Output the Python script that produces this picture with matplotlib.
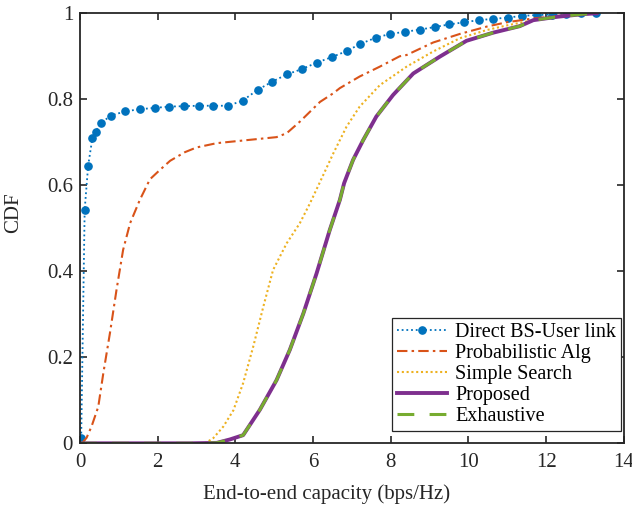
import matplotlib
matplotlib.use("Agg")
import matplotlib.pyplot as plt

plt.rcParams['font.family'] = ['Liberation Serif', 'DejaVu Serif']
plt.rcParams['mathtext.fontset'] = 'stix'

# Direct BS-User link
direct_x = [0.03, 0.12, 0.21, 0.317, 0.403, 0.532, 0.79, 1.166, 1.544, 1.922, 2.299, 2.676,
            3.054, 3.43, 3.817, 4.188, 4.574, 4.95, 5.327, 5.705, 6.09, 6.477, 6.863, 7.22,
            7.61, 7.98, 8.37, 8.75, 9.13, 9.5, 9.88, 10.26, 10.64, 11.01, 11.39, 11.77,
            12.15, 12.52, 12.91, 13.28]
direct_y = [0.012, 0.543, 0.646, 0.709, 0.725, 0.744, 0.762, 0.772, 0.777, 0.780, 0.783, 0.784,
            0.785, 0.785, 0.785, 0.797, 0.822, 0.841, 0.858, 0.870, 0.885, 0.898, 0.912, 0.929,
            0.943, 0.952, 0.957, 0.962, 0.968, 0.974, 0.979, 0.984, 0.987, 0.990, 0.994, 0.996,
            0.997, 0.999, 1.0, 1.0]

# Probabilistic Alg
prob_x = [0.05, 0.17, 0.3, 0.47, 0.60, 0.77, 0.94, 1.11, 1.29, 1.54, 1.80, 2.06, 2.32, 2.7,
          3.0, 3.52, 4.29, 5.06, 5.32, 5.66, 6.18, 6.52, 6.69, 7.2, 7.72, 8.23, 8.41, 9.09,
          9.78, 10.47, 10.98, 11.67, 12.3, 13.3]
prob_y = [0.0, 0.013, 0.04, 0.085, 0.163, 0.256, 0.357, 0.45, 0.512, 0.566, 0.614, 0.636,
          0.657, 0.677, 0.688, 0.698, 0.705, 0.712, 0.721, 0.748, 0.794, 0.814, 0.826, 0.853,
          0.876, 0.900, 0.903, 0.932, 0.952, 0.969, 0.979, 0.988, 0.994, 1.0]

# Simple Search
simple_x = [0.0, 3.22, 3.43, 3.69, 3.95, 4.2, 4.46, 4.72, 4.97, 5.32, 5.66, 5.92, 6.18, 6.52,
            6.86, 7.2, 7.72, 8.41, 9.09, 9.78, 10.47, 11.0, 11.67, 12.3, 13.3]
simple_y = [0.0, 0.0, 0.012, 0.039, 0.077, 0.14, 0.225, 0.318, 0.403, 0.465, 0.512, 0.558,
            0.608, 0.674, 0.736, 0.783, 0.833, 0.876, 0.911, 0.942, 0.961, 0.972, 0.984,
            0.992, 1.0]

# Proposed
prop_x = [0.0, 2.83, 3.52, 3.86, 4.2, 4.63, 5.06, 5.40, 5.75, 6.09, 6.43, 6.69, 6.80, 7.03,
          7.29, 7.63, 8.06, 8.58, 9.26, 9.95, 10.64, 11.32, 11.67, 12.3, 12.95, 13.3]
prop_y = [0.0, 0.0, 0.001, 0.009, 0.019, 0.078, 0.147, 0.217, 0.302, 0.395, 0.496, 0.566,
          0.605, 0.659, 0.705, 0.760, 0.810, 0.860, 0.899, 0.936, 0.955, 0.970, 0.984,
          0.992, 0.998, 1.0]

# Exhaustive
exh_x = [0.0, 2.83, 3.52, 3.86, 4.2, 4.63, 5.06, 5.40, 5.75, 6.09, 6.43, 6.69, 6.80, 7.03,
         7.29, 7.63, 8.06, 8.58, 9.26, 9.95, 10.64, 11.32, 11.67, 12.3, 12.95, 13.3]
exh_y = [0.0, 0.0, 0.001, 0.009, 0.019, 0.078, 0.147, 0.217, 0.302, 0.395, 0.496, 0.566,
         0.605, 0.659, 0.705, 0.760, 0.810, 0.860, 0.899, 0.936, 0.955, 0.970, 0.984,
         0.992, 0.998, 1.0]

labels = ['Direct BS-User link', 'Probabilistic Alg', 'Simple Search', 'Proposed', 'Exhaustive']
x_ticks = [0, 2, 4, 6, 8, 10, 12, 14]
y_ticks = [0, 0.2, 0.4, 0.6, 0.8, 1]
y_ticklabels = ['0', '0.2', '0.4', '0.6', '0.8', '1']

fig = plt.figure(figsize=(6.32, 5.07), dpi=100)
ax = fig.add_axes([0.1266, 0.1256, 0.8604, 0.8482])

ax.plot(direct_x, direct_y, linestyle=(0, (1, 1.6)), color='#0072BD', lw=1.3,
        marker='o', markersize=5.2, label=labels[0])
ax.plot(prob_x, prob_y, linestyle=(0, (5, 2, 1.2, 2)), color='#D95319', lw=1.5, label=labels[1])
ax.plot(simple_x, simple_y, linestyle=(0, (1, 1.3)), color='#EDB120', lw=1.5, label=labels[2])
ax.plot(prop_x, prop_y, linestyle='-', color='#7E2F8E', lw=2.8, label=labels[3])
ax.plot(exh_x, exh_y, linestyle=(0, (5.5, 5)), color='#77AC30', lw=2.2, label=labels[4])

ax.set_xlim(0, 14)
ax.set_ylim(0, 1)
ax.set_xticks(x_ticks)
ax.set_yticks(y_ticks)
ax.set_yticklabels(y_ticklabels)
ax.tick_params(direction='in', top=True, right=True, length=5, width=1.2,
               labelsize=15, colors='#262626', pad=5)
ax.tick_params(axis='x', pad=7)
for s in ax.spines.values():
    s.set_linewidth(1.3)
    s.set_color('#262626')

ax.set_xlabel('End-to-end capacity (bps/Hz)', fontsize=15, color='#262626')
ax.set_ylabel('CDF', fontsize=15, color='#262626')
ax.xaxis.set_label_coords(0.4535, -0.095)
ax.yaxis.set_label_coords(-0.104, 0.536)

leg = ax.legend(loc='lower right', bbox_to_anchor=(0.995, 0.028), fontsize=14.5,
                frameon=True, fancybox=False, framealpha=1, edgecolor='#262626',
                handlelength=2.5, handletextpad=0.4, labelspacing=0.1,
                borderpad=0.25, borderaxespad=0)
leg.get_frame().set_linewidth(0.9)

fig.savefig('out.png', dpi=100)
